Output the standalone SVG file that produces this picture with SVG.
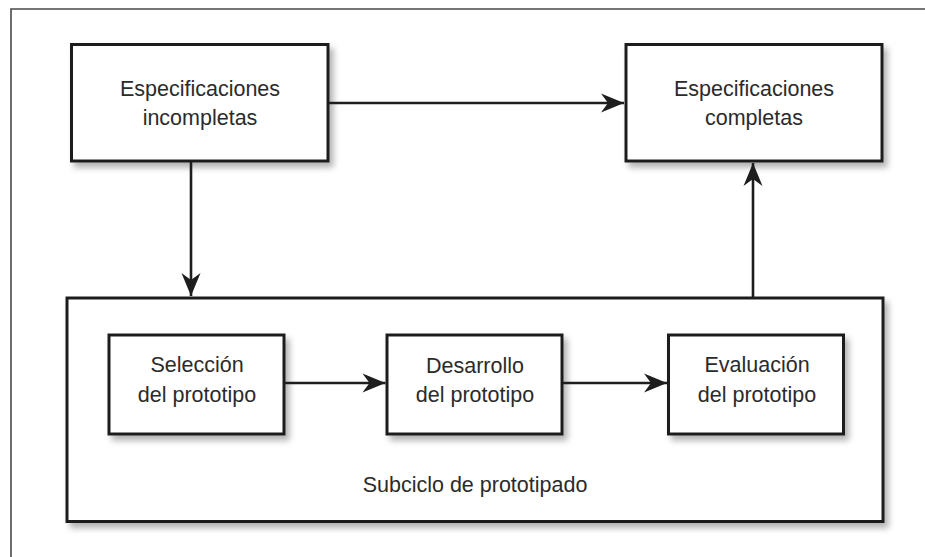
<svg xmlns="http://www.w3.org/2000/svg" width="925" height="557" viewBox="0 0 925 557">
  <style>
    .box { fill: #ffffff; stroke: #1e1e1e; stroke-width: 3; filter: url(#shadow); }
    .lbl { font-family: "Liberation Sans", Arial, sans-serif; font-size: 21.5px; fill: #2b2b2b; text-anchor: middle; }
    .conn { fill: none; stroke: #1e1e1e; stroke-width: 2.6; marker-end: url(#arrow); }
    .frame { fill: none; stroke: #4a4a4a; stroke-width: 1.6; }
  </style>
  <defs>
    <filter id="shadow" x="-10%" y="-10%" width="125%" height="130%">
      <feDropShadow dx="4" dy="5" stdDeviation="3" flood-color="#000" flood-opacity="0.3"/>
    </filter>
    <marker id="arrow" markerUnits="userSpaceOnUse" markerWidth="26" markerHeight="22" viewBox="-24 -11 26 22" refX="0" refY="0" orient="auto">
      <path d="M0,0 L-23,-9.5 L-16,0 L-23,9.5 Z" fill="#1e1e1e"/>
    </marker>
  </defs>
  <rect width="925" height="557" fill="#ffffff"/>
  <path class="frame" d="M11,557 L11,9 L925,9"/>

  <g id="subciclo">
    <rect class="box" x="67" y="298" width="816" height="223.5"/>
    <text class="lbl" x="475" y="492">Subciclo de prototipado</text>
  </g>

  <g id="especificaciones-incompletas">
    <rect class="box" x="71.5" y="44.5" width="256.5" height="116.5"/>
    <text class="lbl" x="200" y="96">Especificaciones</text>
    <text class="lbl" x="200" y="125">incompletas</text>
  </g>

  <g id="especificaciones-completas">
    <rect class="box" x="626" y="44.5" width="256" height="116.5"/>
    <text class="lbl" x="754" y="96">Especificaciones</text>
    <text class="lbl" x="754" y="125">completas</text>
  </g>

  <g id="seleccion">
    <rect class="box" x="109" y="335" width="175" height="99"/>
    <text class="lbl" x="197" y="372">Selección</text>
    <text class="lbl" x="197" y="402">del prototipo</text>
  </g>

  <g id="desarrollo">
    <rect class="box" x="387" y="335" width="175" height="99"/>
    <text class="lbl" x="475" y="373">Desarrollo</text>
    <text class="lbl" x="475" y="402">del prototipo</text>
  </g>

  <g id="evaluacion">
    <rect class="box" x="668.5" y="335" width="175" height="99"/>
    <text class="lbl" x="757" y="372">Evaluación</text>
    <text class="lbl" x="757" y="402">del prototipo</text>
  </g>

  <g id="connectors">
    <path class="conn" d="M329,103 L624,103"/>
    <path class="conn" d="M191,162 L191,296"/>
    <path class="conn" d="M753,297 L753,163"/>
    <path class="conn" d="M285,383 L385.5,383"/>
    <path class="conn" d="M563,383 L667,383"/>
  </g>
</svg>
